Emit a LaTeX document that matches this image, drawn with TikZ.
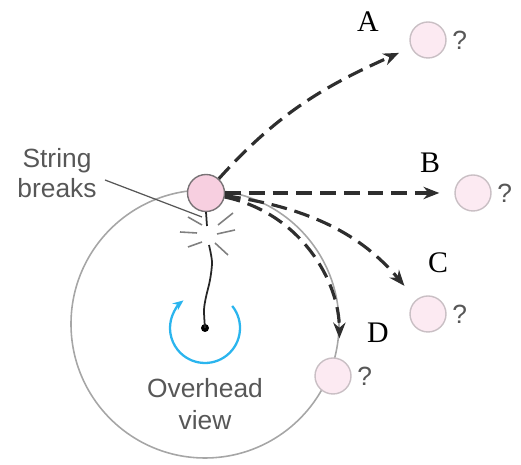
\documentclass[tikz,border=0pt]{standalone}
\usepackage{fontspec}
\setmainfont{Liberation Serif}
\setsansfont{Liberation Sans}
\usetikzlibrary{arrows.meta, positioning}
\usepackage{xcolor}
\definecolor{ballpink}{HTML}{F7CFE0}
\definecolor{ghostpink}{HTML}{FCEAF2}
\definecolor{rimgray}{HTML}{C9BFC4}
\definecolor{spinblue}{HTML}{2BB5EE}
\definecolor{inkgray}{HTML}{575757}
\definecolor{pathgray}{HTML}{2E2E2E}

\begin{document}
\begin{tikzpicture}[
    x=0.02cm, y=0.02cm,
    ghost/.style={circle, draw=rimgray, line width=0.8pt, fill=ghostpink, minimum size=0.72cm, inner sep=0pt},
    puck/.style={circle, draw=rimgray!60!black, line width=0.8pt, fill=ballpink, minimum size=0.74cm, inner sep=0pt},
    flight/.style={draw=pathgray, line width=1.8pt, dash pattern=on 9pt off 4.5pt, -{Stealth[length=9pt, width=7pt]}},
    letter/.style={font=\fontsize{17}{20}\selectfont, text=black, inner sep=0pt},
    qmark/.style={font=\sffamily\fontsize{15}{18}\selectfont, text=inkgray, inner sep=0pt},
    note/.style={font=\sffamily\fontsize{15}{17.5}\selectfont, text=inkgray, align=center, inner sep=0pt},
    crack/.style={draw=gray, line width=0.9pt},
]
\useasboundingbox (0,0) rectangle (521,465);

% orbit seen from above
\draw[gray!70, line width=0.9pt] (205,141) circle[radius=134];

% pivot, rotation sense
\node[circle, fill=black, minimum size=0.16cm, inner sep=0pt] (pivot) at (205,137) {};
\draw[spinblue, line width=1.3pt, -{Stealth[length=6pt, width=5pt]}]
    ([shift={(39:35)}]pivot.center) arc[start angle=39, end angle=-232, radius=35];

% ball and the possible positions after the break
\node[puck] (ball) at (206,272) {};
\node[ghost] (ballA) at (428,425) {};
\node[ghost] (ballB) at (473,272) {};
\node[ghost] (ballC) at (428,151) {};
\node[ghost] (ballD) at (333,89) {};

\node[qmark, right=3pt of ballA] (qA) {?};
\node[qmark, right=3pt of ballB] (qB) {?};
\node[qmark, right=3pt of ballC] (qC) {?};
\node[qmark, right=3pt of ballD] (qD) {?};

\node[letter] (labA) at (368,443) {A};
\node[letter] (labB) at (430,302) {B};
\node[letter] (labC) at (438,202) {C};
\node[letter] (labD) at (378,132) {D};

% string, broken
\coordinate (knot) at (207,239);
\draw[black!85, line width=1pt] (ball.south) to[out=-85, in=95] (knot);
\draw[black!85, line width=1pt] plot[smooth] coordinates {(209,220) (212,203) (210,185) (206,168) (204,155) (pivot.center)};
\draw[crack] (188,248) -- (202,240);
\draw[crack] (218,240) -- (233,252);
\draw[crack] (180,233) -- (197,232);
\draw[crack] (217,231) -- (235,235);
\draw[crack] (188,218) -- (202,223);
\draw[crack] (215,222) -- (228,210);

% texts
\node[note] (breaks) at (57,292) {String\\breaks};
\coordinate (snap) at (202,248);
\draw[inkgray, line width=0.7pt] (105,285) -- (snap);
\node[note, font=\sffamily\fontsize{15}{18}\selectfont] (view) at (205,61) {Overhead\\view};

% paths
\path[flight, shorten >=0.26cm] (ball) to[out=48, in=204] (ballA);
\path[flight, shorten >=0.3cm] (ball) -- (ballB);
\path[flight, shorten >=0.36cm] (ball) to[out=-8, in=130] (ballC);
\path[flight, shorten >=0.4cm] (ball) to[out=-12, in=90] (ballD.70);

\end{tikzpicture}
\end{document}
